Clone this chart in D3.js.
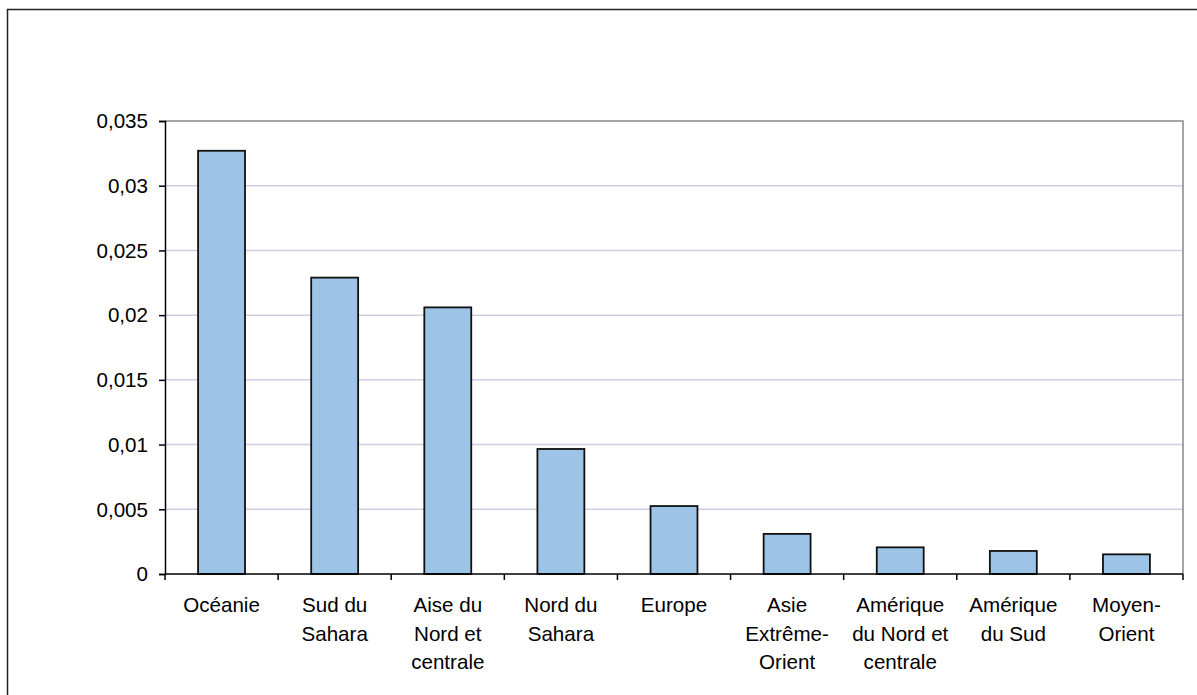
<!DOCTYPE html>
<html>
<head>
<meta charset="utf-8">
<script src="https://cdn.jsdelivr.net/npm/d3@7"></script>
<style>
    body { margin: 0; background: #fff; }
    svg text { font-family: "Liberation Sans", Arial, sans-serif; fill: #000; }
</style>
</head>
<body>
<div id="chart"></div>
<script>
const width = 1197;
const height = 695;

// data
const categories = [
    ["Océanie"],
    ["Sud du", "Sahara"],
    ["Aise du", "Nord et", "centrale"],
    ["Nord du", "Sahara"],
    ["Europe"],
    ["Asie", "Extrême-", "Orient"],
    ["Amérique", "du Nord et", "centrale"],
    ["Amérique", "du Sud"],
    ["Moyen-", "Orient"]
];
const values = [0.0327, 0.0229, 0.0206, 0.00966, 0.00525, 0.0031, 0.00206, 0.00178, 0.00152];
const tickValues = [0, 0.005, 0.01, 0.015, 0.02, 0.025, 0.03, 0.035];
const tickLabels = ["0", "0,005", "0,01", "0,015", "0,02", "0,025", "0,03", "0,035"];

const margin = { top: 121, left: 165, right: 14, bottom: 121 };
const plotW = width - margin.left - margin.right;
const plotH = height - margin.top - margin.bottom;

const svg = d3.select('#chart')
    .append("svg")
    .attr('width', width)
    .attr('height', height);

// outer chart frame (cropped at right/bottom in the original)
svg.append("rect")
    .attr("x", 7.5)
    .attr("y", 9.5)
    .attr("width", width + 20)
    .attr("height", height + 20)
    .style("fill", "none")
    .style("stroke", "#222")
    .style("stroke-width", 1.5);

const g = svg.append("g")
    .attr("transform", `translate(${margin.left},${margin.top})`);

const x = d3.scaleBand()
    .domain(d3.range(values.length))
    .range([0, plotW])
    .paddingInner(0.585)
    .paddingOuter(0.2925);

const y = d3.scaleLinear()
    .domain([0, 0.035])
    .range([plotH, 0]);

// gridlines
g.selectAll(".grid")
    .data(tickValues.slice(1, -1))
    .enter().append("line")
    .attr("class", "grid")
    .attr("x1", 0)
    .attr("x2", plotW)
    .attr("y1", d => y(d))
    .attr("y2", d => y(d))
    .style("stroke", "#d2cde6")
    .style("stroke-width", 1.5);

// plot frame top + right
g.append("path")
    .attr("d", `M0,0H${plotW}V${plotH}`)
    .style("fill", "none")
    .style("stroke", "#888")
    .style("stroke-width", 1.5);

// bars
g.selectAll(".bar")
    .data(values)
    .enter().append("rect")
    .attr("class", "bar")
    .attr("x", (d, i) => x(i))
    .attr("y", d => y(d))
    .attr("width", x.bandwidth())
    .attr("height", d => plotH - y(d))
    .style("fill", "#9dc3e6")
    .style("stroke", "#111")
    .style("stroke-width", 1.8);

// y axis
const yAxis = d3.axisLeft(y)
    .tickValues(tickValues)
    .tickFormat((d, i) => tickLabels[i])
    .tickSize(6)
    .tickPadding(11);

const yg = g.append("g").call(yAxis);
yg.select(".domain").style("stroke", "#000").style("stroke-width", 1.5);
yg.selectAll(".tick line").style("stroke", "#000").style("stroke-width", 1.5);
yg.selectAll(".tick text")
    .style("font-size", "20.6px")
    .attr("dy", "0.33em");

// x axis: ticks at category boundaries
const boundaries = d3.range(values.length + 1).map(i => i * plotW / values.length);
const xg = g.append("g").attr("transform", `translate(0,${plotH})`);
xg.append("line")
    .attr("x1", 0).attr("x2", plotW)
    .style("stroke", "#000")
    .style("stroke-width", 1.5);
xg.selectAll(".xtick")
    .data(boundaries)
    .enter().append("line")
    .attr("class", "xtick")
    .attr("x1", d => d).attr("x2", d => d)
    .attr("y1", 0).attr("y2", 6)
    .style("stroke", "#000")
    .style("stroke-width", 1.5);

const labels = xg.selectAll(".xlabel")
    .data(categories)
    .enter().append("text")
    .attr("class", "xlabel")
    .attr("text-anchor", "middle")
    .attr("transform", (d, i) => `translate(${x(i) + x.bandwidth() / 2},38)`)
    .style("font-size", "20.6px");

labels.selectAll("tspan")
    .data(d => d)
    .enter().append("tspan")
    .attr("x", 0)
    .attr("y", (d, i) => i * 28.5)
    .text(d => d);
</script>
</body>
</html>
